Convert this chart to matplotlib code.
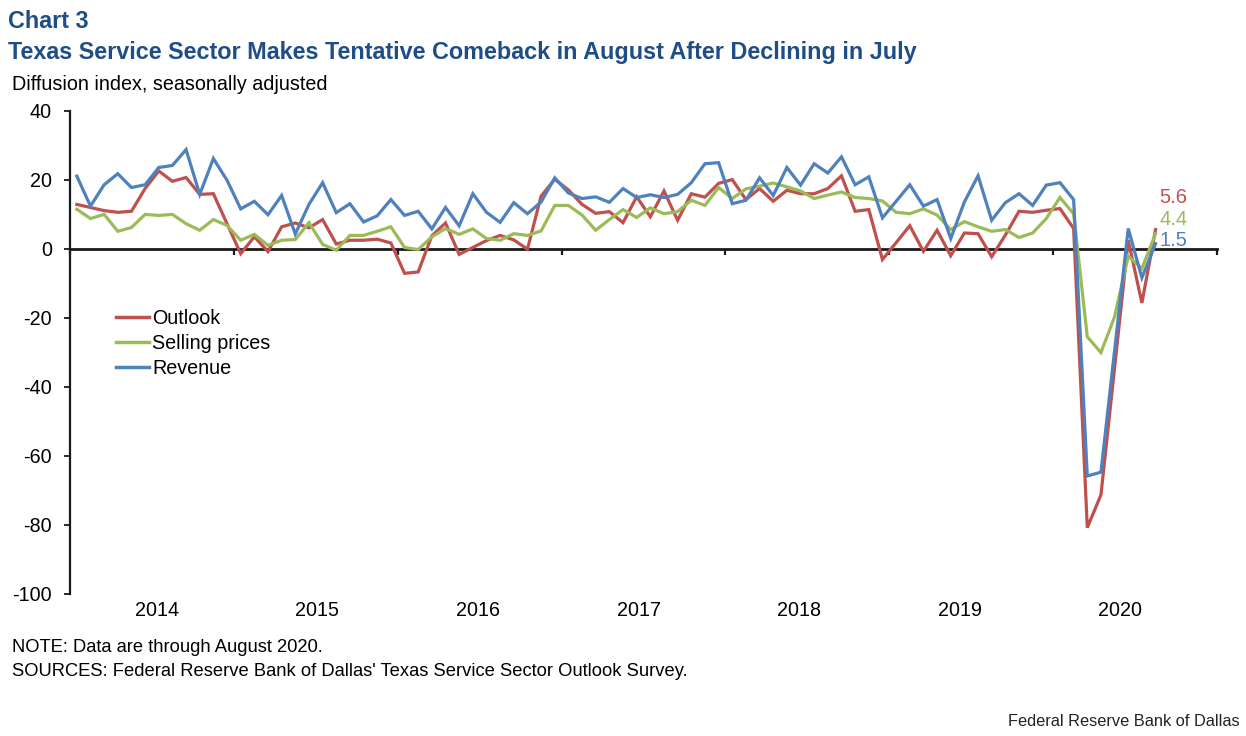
import matplotlib
matplotlib.use("Agg")
import matplotlib.pyplot as plt
import matplotlib.transforms as mtransforms
import numpy as np
import pandas as pd

plt.rcParams['font.family'] = ['Liberation Sans', 'DejaVu Sans']

months = pd.date_range("2014-01-01", periods=80, freq="MS")

outlook = [12.9, 12.0, 11.1, 10.6, 10.9, 17.5, 22.6, 19.6, 20.7, 15.8, 16.0, 7.3,
           -1.4, 3.5, -0.8, 6.4, 7.5, 6.1, 8.5, 1.4, 2.5, 2.5, 2.8, 1.7,
           -7.1, -6.7, 3.8, 7.5, -1.6, 0.4, 2.4, 3.9, 2.6, -0.1, 15.3, 20.2,
           17.1, 12.9, 10.3, 10.8, 7.6, 15.1, 9.3, 16.8, 8.3, 16.0, 15.0, 19.0,
           20.1, 14.3, 17.5, 13.8, 17.0, 16.0, 16.0, 17.5, 21.2, 10.9, 11.4, -3.1,
           1.8, 6.7, -0.7, 5.4, -2.0, 4.6, 4.4, -2.3, 4.0, 10.9, 10.6, 11.2,
           11.7, 5.9, -80.9, -71.4, -34.5, 2.5, -15.7, 5.6]

selling_prices = [11.5, 8.8, 10.0, 5.1, 6.2, 10.0, 9.7, 10.0, 7.3, 5.4, 8.5, 6.8,
                  2.5, 4.2, 1.0, 2.5, 2.7, 7.6, 1.3, -0.4, 3.9, 3.9, 5.1, 6.4,
                  0.4, -0.2, 3.5, 5.9, 4.2, 5.8, 3.0, 2.5, 4.4, 3.9, 5.2, 12.6,
                  12.6, 9.8, 5.4, 8.5, 11.4, 9.1, 11.9, 10.2, 10.8, 14.1, 12.6, 17.8,
                  14.6, 17.4, 18.2, 19.1, 18.0, 16.8, 14.6, 15.6, 16.5, 14.9, 14.6, 13.9,
                  10.6, 10.2, 11.6, 9.8, 5.6, 7.9, 6.4, 5.1, 5.6, 3.3, 4.6, 8.8,
                  14.9, 10.2, -25.5, -30.1, -19.7, -2.1, -5.7, 4.4]

revenue = [21.1, 12.4, 18.6, 21.8, 17.8, 18.6, 23.6, 24.2, 28.8, 15.8, 26.2, 19.9,
           11.6, 13.8, 9.9, 15.5, 4.3, 12.9, 19.2, 10.5, 13.1, 7.8, 9.6, 14.3,
           9.7, 10.9, 5.8, 12.0, 6.7, 16.0, 10.6, 7.7, 13.4, 10.2, 13.6, 20.6,
           16.2, 14.6, 15.1, 13.5, 17.5, 14.9, 15.7, 14.9, 15.8, 19.2, 24.7, 25.0,
           13.1, 14.1, 20.6, 15.5, 23.6, 18.5, 24.7, 22.0, 26.7, 18.6, 20.9, 9.0,
           13.8, 18.6, 12.4, 14.3, 3.0, 13.6, 21.2, 8.3, 13.4, 16.0, 12.6, 18.5,
           19.2, 14.3, -65.9, -64.8, -29.5, 5.9, -8.4, 1.5]

series_names = ["Outlook", "Selling prices", "Revenue"]
series_colors = ["#C0504D", "#9BBB59", "#4F81BD"]
years = ["2014", "2015", "2016", "2017", "2018", "2019", "2020"]
yticks = [40, 20, 0, -20, -40, -60, -80, -100]

W, H = 1246, 736
fig = plt.figure(figsize=(W / 100, H / 100), dpi=100)

def fx(px):
    return px / W

def fy(py):
    return 1 - py / H

ax_l, ax_r, ax_t, ax_b = 70, 1217, 111, 593.5
ax = fig.add_axes([fx(ax_l), fy(ax_b), fx(ax_r - ax_l), fy(ax_t) - fy(ax_b)])

x = np.arange(len(months))
for vals, name, col in zip([outlook, selling_prices, revenue], series_names, series_colors):
    ax.plot(x, vals, color=col, lw=2.3, label=name, solid_joinstyle='miter', zorder=3)

ax.set_xlim(-0.5, 83.5)
ax.set_ylim(-100, 40)

for s in ['top', 'right']:
    ax.spines[s].set_visible(False)
ax.spines['left'].set_linewidth(1.6)
ax.spines['left'].set_color('#1a1a1a')
ax.spines['bottom'].set_position(('data', 0))
ax.spines['bottom'].set_linewidth(2.0)
ax.spines['bottom'].set_color('#1a1a1a')
ax.spines['bottom'].set_zorder(2)

FS = 14.2
ax.set_yticks(yticks)
ax.set_yticklabels([str(v) for v in yticks], fontsize=FS)
ax.tick_params(axis='y', direction='out', length=4.5, width=1.3, pad=8.5, colors='#1a1a1a', labelcolor='black')

ax.set_xticks(np.arange(-0.5, 84, 12))
ax.set_xticklabels([])
ax.tick_params(axis='x', direction='out', length=4.5, width=1.6, colors='#1a1a1a')

# Year labels
trans = mtransforms.blended_transform_factory(ax.transAxes, fig.transFigure)
for k, yr in enumerate(years):
    px = 157 + 160.5 * k
    ax.text((px - ax_l) / (ax_r - ax_l), fy(611), yr, transform=trans,
            ha='center', va='center', fontsize=FS, color='black')

# End labels
offsets = [23, 10.5, 2.5]
for vals, col, off in zip([outlook, selling_prices, revenue], series_colors, offsets):
    ax.annotate(f"{vals[-1]:.1f}", xy=(x[-1], vals[-1]), xytext=(2.5, off),
                textcoords='offset points', ha='left', va='center',
                fontsize=14.5, color=col)

leg = ax.legend(loc='upper left', bbox_to_anchor=(fx(116), fy(309)),
                bbox_transform=fig.transFigure, frameon=False, fontsize=FS,
                handlelength=1.65, handletextpad=0.18, labelspacing=0.3,
                borderaxespad=0, borderpad=0)
for line in leg.get_lines():
    line.set_linewidth(2.5)

title_color = "#1F4E86"
fig.text(fx(8), fy(22), "Chart 3", fontsize=16.8, fontweight='bold',
         color=title_color, ha='left', va='center')
fig.text(fx(8), fy(52), "Texas Service Sector Makes Tentative Comeback in August After Declining in July",
         fontsize=16.8, fontweight='bold', color=title_color, ha='left', va='center')
fig.text(fx(12), fy(85), "Diffusion index, seasonally adjusted", fontsize=FS,
         color='black', ha='left', va='center')

fig.text(fx(12), fy(648), "NOTE: Data are through August 2020.", fontsize=13.2,
         color='black', ha='left', va='center')
fig.text(fx(12), fy(671), "SOURCES: Federal Reserve Bank of Dallas' Texas Service Sector Outlook Survey.",
         fontsize=13.2, color='black', ha='left', va='center')
fig.text(fx(1240), fy(722), "Federal Reserve Bank of Dallas", fontsize=11.8,
         color='#222222', ha='right', va='center')

fig.savefig("out.png", dpi=100)
